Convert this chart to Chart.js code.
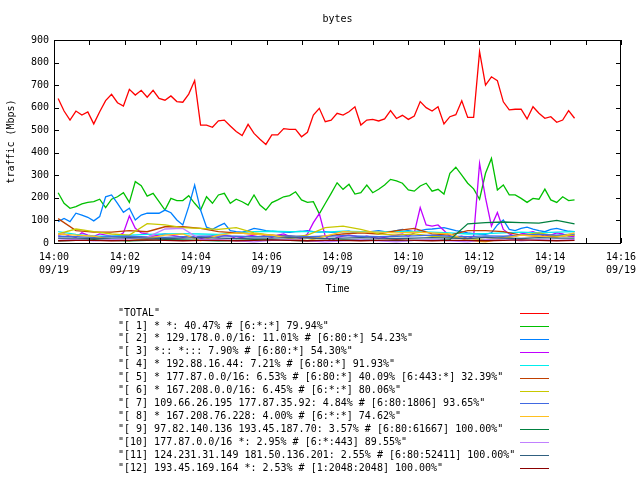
<!DOCTYPE html>
<html>
<head>
<meta charset="utf-8">
<script src="https://cdn.jsdelivr.net/npm/chart.js@4/dist/chart.umd.min.js"></script>
<style>
  html, body { margin: 0; padding: 0; background: #fff; }
  canvas { display: block; }
</style>
</head>
<body>
<canvas id="chart_bytes" width="640" height="480"></canvas>
<script>
// samples every ~10 s (fine) and every ~30 s (coarse), seconds after 14:00
const sampleStart = 7;
const sampleStep = 10.05;
const fineCount = 88;

const xTickLabels = ['14:00', '14:02', '14:04', '14:06', '14:08', '14:10', '14:12', '14:14', '14:16'];
const xDateLabel = '09/19';

const seriesNames = [
  'TOTAL',
  '[ 1] * *: 40.47% # [6:*:*] 79.94%',
  '[ 2] * 129.178.0.0/16: 11.01% # [6:80:*] 54.23%',
  '[ 3] *:: *::: 7.90% # [6:80:*] 54.30%',
  '[ 4] * 192.88.16.44: 7.21% # [6:80:*] 91.93%',
  '[ 5] * 177.87.0.0/16: 6.53% # [6:80:*] 40.09% [6:443:*] 32.39%',
  '[ 6] * 167.208.0.0/16: 6.45% # [6:*:*] 80.06%',
  '[ 7] 109.66.26.195 177.87.35.92: 4.84% # [6:80:1806] 93.65%',
  '[ 8] * 167.208.76.228: 4.00% # [6:*:*] 74.62%',
  '[ 9] 97.82.140.136 193.45.187.70: 3.57% # [6:80:61667] 100.00%',
  '[10] 177.87.0.0/16 *: 2.95% # [6:*:443] 89.55%',
  '[11] 124.231.31.149 181.50.136.201: 2.55% # [6:80:52411] 100.00%',
  '[12] 193.45.169.164 *: 2.53% # [1:2048:2048] 100.00%'
];

const seriesColors = ['#ff0000', '#00c000', '#0080ff', '#c000ff', '#00eeee', '#c04000',
  '#c8c800', '#4169e1', '#ffc020', '#008040', '#c080ff', '#306080', '#8b0000'];

// fine series (10 s)
const totalValues = [641,585,545,585,567,581,528,582,631,659,622,607,681,656,677,646,677,641,633,652,627,624,660,720,
  523,523,513,542,545,519,494,476,526,486,460,437,479,479,507,504,504,471,491,567,597,538,545,
  575,567,582,604,523,545,548,541,550,587,552,566,548,563,627,600,585,604,528,560,569,631,557,557,
  848,700,737,720,626,590,593,593,550,604,575,553,560,535,545,587,553];
const s1Values = [223,176,154,161,173,180,183,194,157,194,205,223,180,272,254,208,220,183,146,198,188,188,210,176,
  146,205,176,213,220,176,194,183,168,213,168,146,179,191,205,210,227,191,180,183,
  129,175,220,267,238,260,217,223,257,223,238,257,282,275,265,235,230,253,265,230,238,217,309,336,301,265,240,
  194,309,375,235,257,213,213,198,180,198,194,239,191,180,205,188,191];
const s2Values = [95,109,95,132,124,114,98,117,205,213,176,136,154,102,124,132,132,132,146,134,102,80,161,257,
  146,70,61,75,87,55,50,48,55,65,60,55,52,50,48,47,50,52,55,50,
  48,50,47,48,50,52,45,50,48,52,55,50,48,55,60,55,50,
  55,60,62,65,68,62,55,50,45,42,
  40,38,45,80,102,60,55,65,70,62,55,50,60,65,58,52,50];
const s3Values = [35,40,30,25,45,35,30,40,35,30,30,45,
  120,65,45,40,30,35,40,35,30,25,30,25,
  20,25,30,25,35,30,20,25,30,35,40,30,25,35,40,30,25,20,40,
  90,130,30,10,25,30,35,30,25,30,25,20,25,30,35,40,30,45,
  157,80,75,80,55,30,25,30,20,30,
  353,200,75,135,60,40,30,40,45,50,40,30,35,45,40,30,28];

// coarse series (every 3rd sample)
const s4Values = [50,38,30,30,35,38,40,42,40,38,45,50,52,50,50,48,52,50,48,52,50,48,45,40,42,45,48,45,48,50];
const s5Values = [108,55,48,48,55,50,72,72,65,50,45,40,35,30,25,30,40,45,40,55,65,40,35,55,55,50,35,30,30,35];
const s6Values = [40,62,50,40,35,86,80,68,65,60,68,45,35,25,35,68,75,60,40,35,40,30,25,20,15,25,35,45,30,35];
const s7Values = [30,28,25,28,30,27,25,28,30,32,30,28,30,32,28,30,33,30,28,30,32,35,30,28,32,30,35,38,35,40];
const s8Values = [40,35,30,15,10,20,35,40,10,35,45,40,35,20,10,30,50,48,48,45,48,45,40,10,5,20,35,30,25,45];
const s9Values = [10,12,15,12,10,12,15,14,12,10,12,15,14,12,10,12,14,15,12,10,12,12,15,85,90,93,90,88,100,85];
const s10Values = [20,15,10,15,20,25,62,65,15,15,10,5,12,15,10,5,10,15,10,5,12,15,10,5,15,20,10,15,12,15];
const s11Values = [22,22,20,22,24,22,20,22,24,22,20,22,22,24,22,20,22,24,22,20,22,24,22,20,25,22,20,24,22,22];
const s12Values = [10,12,12,10,12,14,12,10,12,12,10,12,14,12,10,12,12,10,12,14,12,10,12,12,10,12,14,12,10,12];

const allValues = [totalValues, s1Values, s2Values, s3Values, s4Values, s5Values, s6Values,
  s7Values, s8Values, s9Values, s10Values, s11Values, s12Values];

const monoFont = '"DejaVu Sans Mono", monospace';

function toPoints(values) {
  // coarse series use every 3rd sample time
  let stride = values.length === fineCount ? 1 : 3;
  let pts = [];
  for (let i = 0; i < values.length; i++) {
    pts.push({ x: sampleStart + i * stride * sampleStep, y: values[i] });
  }
  return pts;
}

let datasets = [];
for (let i = 0; i < seriesNames.length; i++) {
  datasets.push({
    label: seriesNames[i],
    data: toPoints(allValues[i]),
    borderColor: seriesColors[i],
    backgroundColor: seriesColors[i],
    borderWidth: 1.3,
    pointRadius: 0,
    tension: 0,
    order: -i
  });
}

// gnuplot style frame, inward tics, titles and key
const gnuplotDecor = {
  id: 'gnuplotDecor',
  afterDraw(chart) {
    const ctx = chart.ctx;
    const area = chart.chartArea;
    const xs = chart.scales.x;
    const ys = chart.scales.y;
    ctx.save();
    ctx.strokeStyle = '#000';
    ctx.lineWidth = 1;
    ctx.strokeRect(Math.round(area.left) + 0.5, Math.round(area.top) + 0.5,
      Math.round(area.right - area.left) - 1, Math.round(area.bottom - area.top));

    ctx.beginPath();
    for (let t = 0; t <= 960; t += 60) {
      let px = Math.round(xs.getPixelForValue(t)) + 0.5;
      ctx.moveTo(px, area.bottom); ctx.lineTo(px, area.bottom - 5);
      ctx.moveTo(px, area.top); ctx.lineTo(px, area.top + 5);
    }
    for (let v = 0; v <= 900; v += 100) {
      let py = Math.round(ys.getPixelForValue(v)) + 0.5;
      ctx.moveTo(area.left, py); ctx.lineTo(area.left + 5, py);
      ctx.moveTo(area.right, py); ctx.lineTo(area.right - 5, py);
    }
    ctx.stroke();

    ctx.fillStyle = '#000';
    ctx.font = '10px ' + monoFont;
    ctx.textAlign = 'center';
    ctx.textBaseline = 'middle';
    let midX = (area.left + area.right) / 2;
    ctx.fillText('bytes', midX, 19);
    ctx.fillText('Time', midX, 289);

    ctx.save();
    ctx.translate(11, (area.top + area.bottom) / 2);
    ctx.rotate(-Math.PI / 2);
    ctx.fillText('traffic (Mbps)', 0, 0);
    ctx.restore();

    ctx.textAlign = 'left';
    for (let i = 0; i < seriesNames.length; i++) {
      let y = 313 + i * 12.92;
      ctx.fillStyle = '#000';
      ctx.fillText('"' + seriesNames[i] + '"', 118, y);
      ctx.strokeStyle = seriesColors[i];
      ctx.beginPath();
      ctx.moveTo(520, Math.round(y) + 0.5);
      ctx.lineTo(549, Math.round(y) + 0.5);
      ctx.stroke();
    }
    ctx.restore();
  }
};

new Chart(document.getElementById('chart_bytes'), {
  type: 'line',
  data: { datasets: datasets },
  options: {
    responsive: false,
    animation: false,
    layout: { padding: { left: 0, right: 19, top: 40, bottom: 0 } },
    scales: {
      x: {
        type: 'linear',
        min: 0,
        max: 960,
        afterFit: (scale) => {
          scale.height = 237;
          scale.paddingLeft = 0;
          scale.paddingRight = 0;
        },
        grid: { display: false, drawTicks: false },
        border: { display: false },
        ticks: {
          stepSize: 120,
          autoSkip: false,
          maxRotation: 0,
          padding: 8,
          color: '#000',
          font: { family: monoFont, size: 10, lineHeight: 1.3 },
          callback: (value) => [xTickLabels[value / 120], xDateLabel]
        }
      },
      y: {
        min: 0,
        max: 900,
        afterFit: (scale) => { scale.width = 54; },
        grid: { display: false, drawTicks: false },
        border: { display: false },
        ticks: {
          stepSize: 100,
          padding: 5,
          color: '#000',
          font: { family: monoFont, size: 10 }
        }
      }
    },
    plugins: {
      legend: { display: false },
      tooltip: { enabled: false },
      title: { display: false }
    }
  },
  plugins: [gnuplotDecor]
});
</script>
</body>
</html>
